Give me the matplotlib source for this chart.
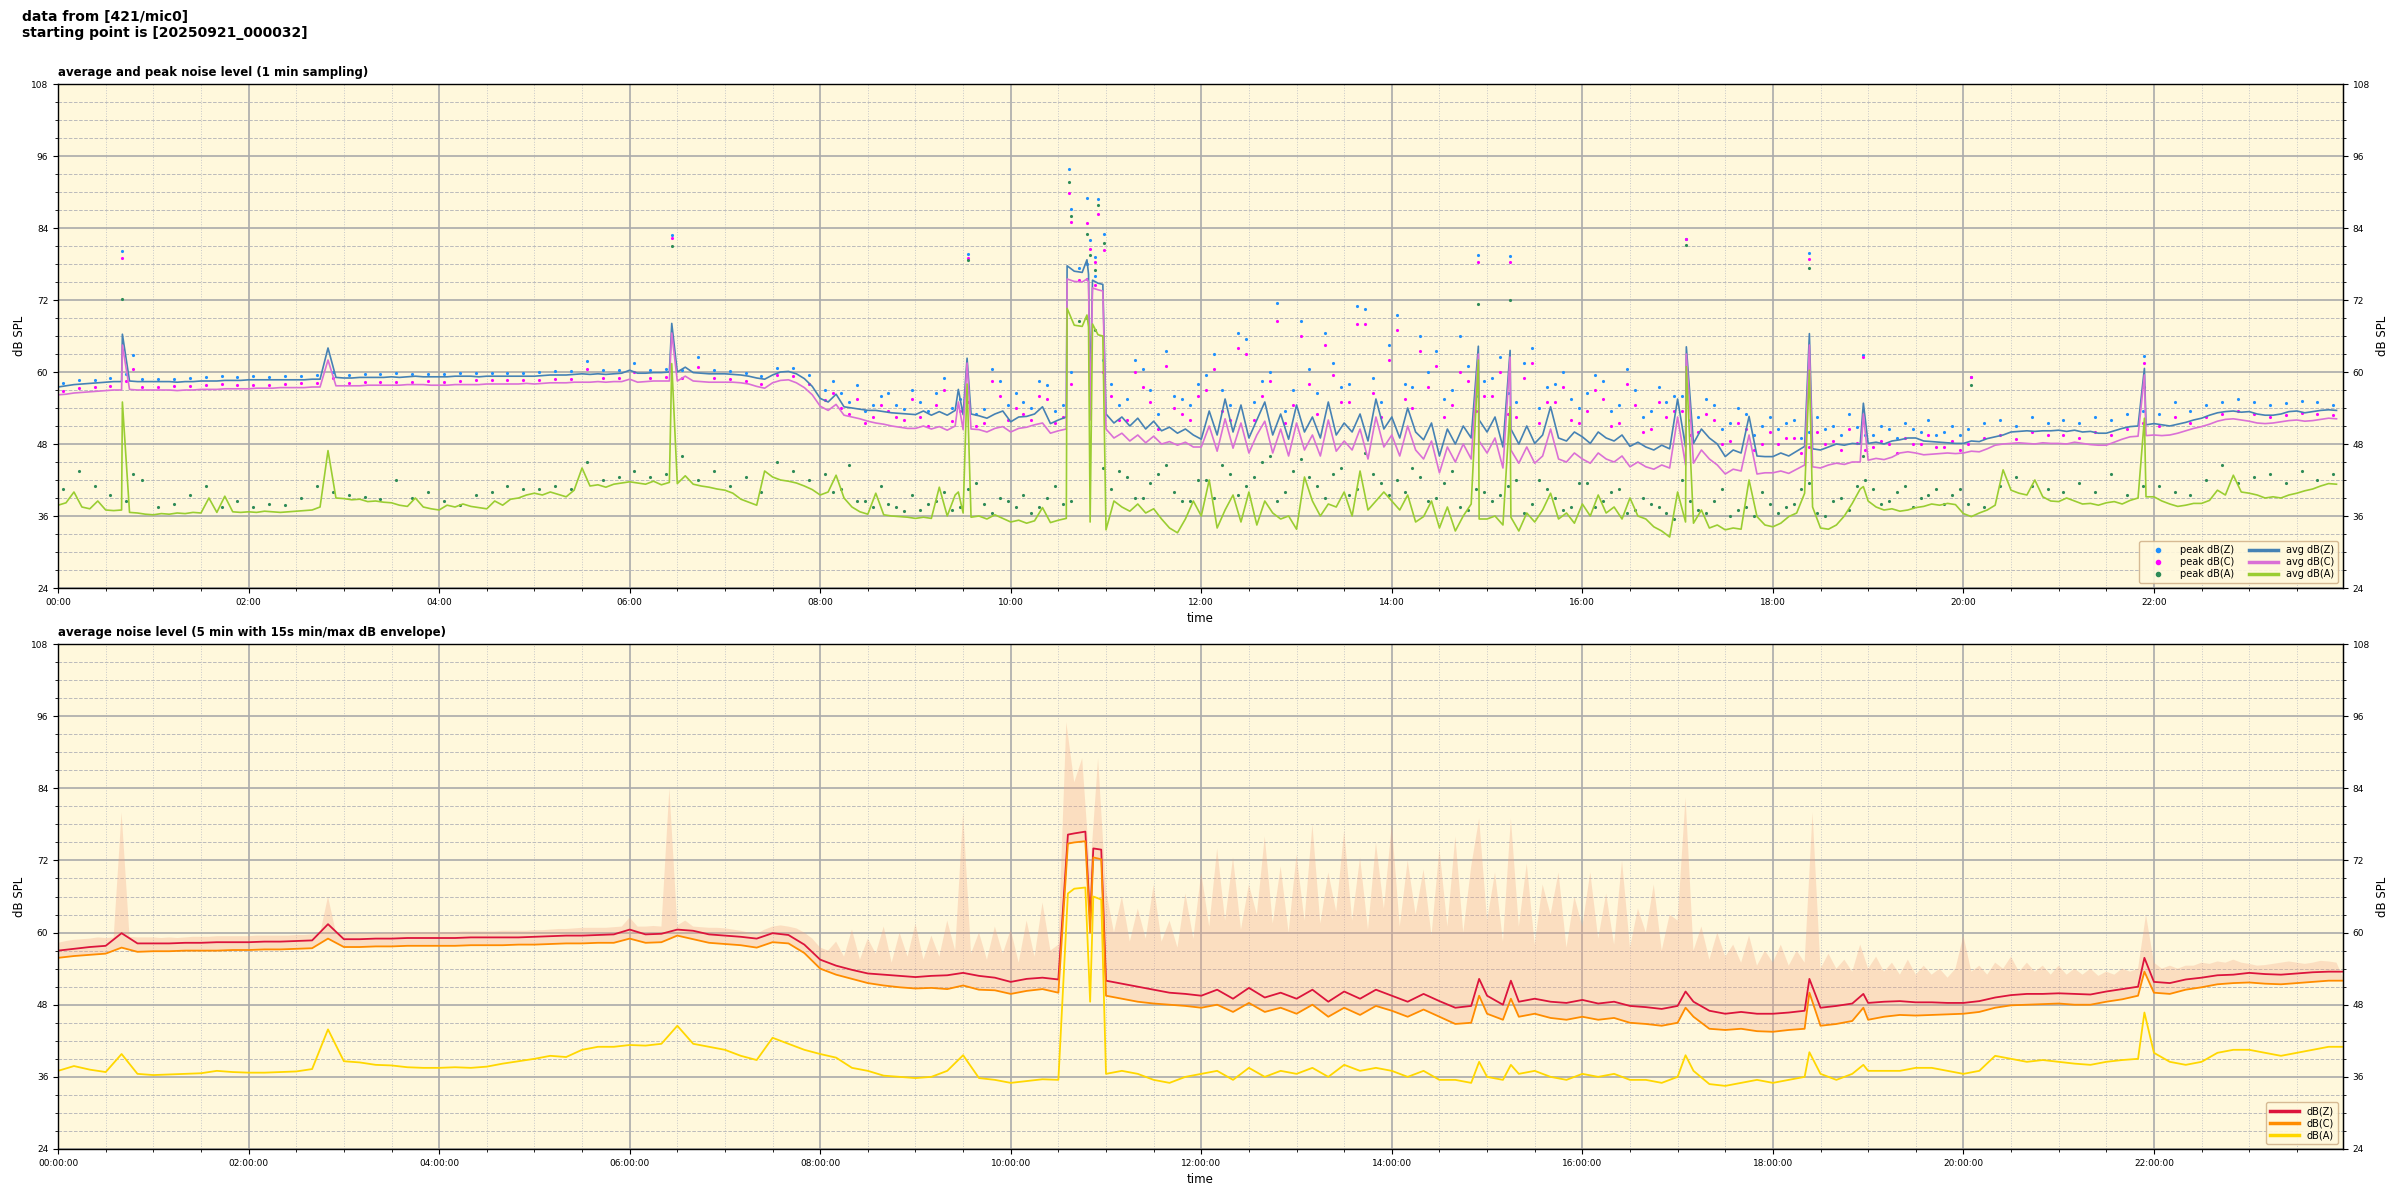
import numpy as np
import matplotlib.pyplot as plt
from matplotlib.ticker import MultipleLocator, FuncFormatter

# --- dados (minutos desde 00:00) ---

# médias a cada 5 min (painel de cima), uma linha por hora
avg_z = [
    57.5, 57.7, 57.9, 58.0, 58.1, 58.2, 58.3, 58.4, 58.4, 58.5, 58.4, 58.4,
    58.4, 58.4, 58.4, 58.3, 58.4, 58.4, 58.5, 58.5, 58.5, 58.6, 58.6, 58.6,
    58.7, 58.7, 58.7, 58.7, 58.7, 58.7, 58.7, 58.7, 58.8, 58.8, 64.0, 59.1,
    59.0, 59.0, 59.1, 59.1, 59.1, 59.1, 59.2, 59.1, 59.2, 59.3, 59.2, 59.2,
    59.2, 59.2, 59.3, 59.3, 59.3, 59.2, 59.3, 59.3, 59.3, 59.3, 59.3, 59.3,
    59.3, 59.4, 59.5, 59.5, 59.5, 59.6, 59.7, 59.6, 59.7, 59.6, 59.7, 59.8,
    60.3, 59.8, 59.8, 59.9, 59.9, 60.0, 60.0, 60.8, 59.9, 59.8, 59.7, 59.7,
    59.7, 59.6, 59.5, 59.3, 59.0, 58.8, 59.5, 60.0, 60.1, 59.7, 58.9, 57.6,
    55.6, 55.0, 56.3, 54.2, 54.0, 53.8, 53.6, 53.6, 53.4, 53.2, 53.1, 53.0,
    52.9, 53.5, 52.8, 53.4, 52.8, 53.6, 52.9, 53.0, 52.7, 52.3, 53.0, 53.5,
    51.7, 52.5, 52.6, 53.0, 54.2, 51.4, 52.0, 52.5, 76.8, 76.6, 56.0, 74.8,
    53.0, 51.5, 52.5, 51.0, 52.3, 50.5, 51.8, 50.2, 50.8, 49.8, 50.5, 49.5,
    48.8, 53.5, 49.5, 55.5, 50.0, 54.5, 49.0, 52.0, 55.0, 49.5, 53.0, 48.8,
    54.5, 50.0, 52.5, 49.0, 55.0, 49.5, 51.5, 50.0, 53.0, 48.5, 55.5, 50.5,
    52.5, 49.0, 54.0, 50.0, 48.7, 51.5, 46.0, 50.5, 48.0, 51.0, 49.0, 52.0,
    50.0, 52.5, 47.5, 50.5, 48.0, 51.0, 48.1, 49.5, 54.2, 49.0, 48.5, 50.0,
    49.2, 48.1, 50.0, 49.0, 48.5, 49.5, 47.6, 48.3, 47.5, 47.0, 47.8, 47.2,
    55.5, 47.5, 48.1, 50.5, 49.0, 48.0, 45.9, 47.0, 46.5, 52.6, 46.0, 45.9,
    45.9, 46.5, 46.0, 46.8, 47.6, 47.2, 47.0, 47.5, 48.0, 47.8, 48.1, 48.0,
    48.1, 48.3, 48.0, 48.5, 48.7, 49.0, 49.0, 48.5, 48.4, 48.3, 48.2, 48.1,
    48.1, 48.5, 48.4, 48.9, 49.2, 49.5, 50.0, 50.1, 50.2, 50.1, 50.2, 50.2,
    50.3, 50.1, 50.3, 50.0, 50.1, 49.8, 49.8, 50.2, 50.6, 50.9, 51.0, 51.2,
    51.4, 51.2, 51.0, 51.3, 51.6, 52.0, 52.3, 52.8, 53.2, 53.4, 53.5, 53.3,
    53.4, 53.0, 52.8, 52.8, 53.0, 53.4, 53.5, 53.2, 53.4, 53.6, 53.7, 53.6,
]
avg_c = [
    56.2, 56.3, 56.5, 56.6, 56.7, 56.8, 56.9, 57.0, 57.0, 57.1, 57.0, 57.0,
    57.0, 57.0, 57.0, 56.9, 57.0, 57.0, 57.1, 57.1, 57.1, 57.2, 57.2, 57.2,
    57.2, 57.3, 57.3, 57.3, 57.4, 57.4, 57.4, 57.4, 57.5, 57.5, 62.0, 57.7,
    57.7, 57.7, 57.7, 57.8, 57.8, 57.8, 57.8, 57.8, 57.9, 57.9, 57.9, 57.8,
    57.8, 57.8, 57.9, 57.9, 57.9, 57.9, 58.0, 58.0, 58.0, 58.0, 58.0, 58.1,
    58.0, 58.1, 58.2, 58.2, 58.2, 58.3, 58.3, 58.3, 58.4, 58.3, 58.4, 58.4,
    58.8, 58.3, 58.4, 58.5, 58.5, 58.5, 58.5, 59.3, 58.5, 58.4, 58.3, 58.3,
    58.3, 58.3, 58.2, 58.0, 57.6, 57.3, 58.2, 58.6, 58.7, 58.2, 57.4, 56.2,
    54.3, 53.6, 54.6, 52.8, 52.5, 52.2, 51.8, 51.5, 51.3, 51.0, 50.8, 50.6,
    50.6, 51.0, 50.5, 50.9, 50.3, 51.0, 50.4, 50.5, 50.4, 50.0, 50.6, 50.9,
    50.0, 50.6, 50.8, 51.2, 51.5, 49.8, 50.2, 50.5, 75.1, 75.0, 52.0, 73.7,
    50.5, 49.0, 49.8, 48.5, 49.5, 48.2, 49.3, 48.0, 48.4, 47.8, 48.3, 47.5,
    47.5, 51.0, 46.8, 52.2, 47.3, 51.5, 46.5, 49.5, 51.8, 46.5, 50.5, 46.0,
    51.5, 47.0, 49.5, 46.0, 52.0, 46.8, 48.5, 47.0, 50.5, 45.5, 52.5, 47.5,
    49.5, 46.0, 51.0, 47.0, 45.5, 48.5, 43.2, 47.5, 45.0, 48.0, 45.5, 48.5,
    46.5, 49.0, 44.0, 47.0, 44.8, 47.5, 44.8, 46.0, 50.5, 45.5, 45.0, 46.5,
    45.5, 44.8, 46.5, 45.5, 45.0, 46.0, 44.2, 45.0, 44.2, 43.8, 44.5, 44.0,
    52.5, 44.5, 44.8, 47.0, 45.5, 44.5, 43.0, 43.8, 43.5, 49.5, 43.0, 43.2,
    43.2, 43.5, 43.1, 43.8, 44.5, 44.2, 44.0, 44.5, 44.8, 44.6, 45.0, 45.0,
    45.3, 45.6, 45.4, 45.8, 46.5, 46.7, 46.5, 46.2, 46.3, 46.4, 46.5, 46.4,
    46.5, 46.8, 46.7, 47.2, 47.8, 48.0, 48.1, 48.2, 48.1, 48.0, 48.2, 48.1,
    48.1, 48.0, 48.3, 48.1, 47.9, 47.8, 47.8, 48.3, 48.8, 49.2, 49.3, 49.4,
    49.5, 49.4, 49.5, 49.8, 50.2, 50.6, 50.9, 51.3, 51.8, 52.1, 52.2, 52.0,
    51.8, 51.5, 51.4, 51.5, 51.7, 51.9, 52.0, 51.8, 51.9, 52.1, 52.3, 52.2,
]
avg_a = [
    37.8, 38.2, 40.0, 37.5, 37.2, 38.5, 37.0, 36.9, 37.0, 36.6, 36.5, 36.3,
    36.2, 36.4, 36.3, 36.5, 36.4, 36.6, 36.5, 39.0, 36.6, 39.3, 36.7, 36.6,
    36.7, 36.6, 36.8, 36.7, 36.6, 36.7, 36.8, 36.9, 37.0, 37.5, 46.9, 39.0,
    38.9, 38.7, 38.8, 38.4, 38.5, 38.3, 38.2, 37.8, 37.6, 39.0, 37.5, 37.2,
    37.0, 37.8, 37.5, 38.0, 37.6, 37.4, 37.2, 38.5, 37.8, 38.8, 39.0, 39.5,
    39.8, 39.5, 40.0, 39.6, 39.2, 40.3, 44.0, 41.0, 41.2, 40.8, 41.3, 41.5,
    41.7, 41.5, 41.3, 41.8, 41.2, 41.6, 41.4, 42.7, 41.3, 41.0, 40.8, 40.5,
    40.3, 39.8, 38.8, 38.3, 37.8, 43.5, 42.5, 42.0, 41.8, 41.5, 41.0, 40.4,
    39.5, 40.0, 42.8, 39.0, 37.5, 36.7, 36.3, 39.8, 36.2, 36.0, 35.9, 35.8,
    35.6, 35.8, 35.6, 40.8, 36.0, 39.5, 36.5, 35.8, 36.0, 35.5, 36.2, 35.6,
    35.0, 35.3, 34.8, 35.2, 37.4, 34.9, 35.3, 35.6, 67.8, 67.6, 35.0, 66.2,
    33.7, 38.5, 37.5, 36.8, 38.0, 36.5, 37.2, 35.5, 34.0, 33.2, 35.5, 38.5,
    36.0, 42.0, 34.0, 37.0, 39.5, 35.0, 40.0, 34.5, 38.5, 36.5, 35.5, 36.0,
    33.8, 42.5, 38.5, 36.0, 38.0, 37.5, 40.0, 36.0, 43.5, 37.0, 38.5, 40.0,
    38.5, 37.0, 39.5, 35.0, 35.9, 38.5, 34.0, 37.5, 33.5, 36.0, 38.0, 35.5,
    35.5, 36.0, 34.5, 35.8, 33.5, 36.5, 35.0, 37.0, 39.8, 35.5, 36.5, 34.8,
    38.0, 36.0, 39.5, 36.5, 37.5, 35.5, 39.0, 36.0, 35.5, 34.2, 33.5, 32.5,
    40.0, 35.0, 34.8, 37.0, 34.0, 34.5, 33.7, 34.0, 33.8, 42.0, 35.9, 34.5,
    34.2, 34.8, 35.9, 36.5, 39.8, 37.5, 34.0, 33.8, 34.5, 36.0, 38.1, 40.5,
    38.5, 37.5, 37.0, 37.2, 36.8, 37.0, 37.4, 37.6, 38.0, 37.8, 38.1, 37.9,
    36.4, 35.9, 36.5, 37.0, 37.8, 43.7, 40.3, 39.8, 39.5, 42.0, 39.2, 38.5,
    38.4, 39.0, 38.5, 38.0, 38.1, 37.8, 38.2, 38.4, 38.0, 38.6, 39.0, 39.2,
    39.2, 38.5, 38.0, 37.6, 37.8, 38.1, 38.1, 38.6, 40.3, 39.5, 42.8, 40.0,
    39.8, 39.5, 39.0, 39.2, 39.0, 39.5, 39.8, 40.2, 40.5, 41.0, 41.4, 41.3,
]

# picos curtos de 1 min (tempo, Z, C, A)
spike_t = [40.5, 386.5, 567, 572.5, 635.5, 648, 649, 651.5, 658, 894.5, 914.5, 1025.5, 1103, 1137, 1314]
spike_z = [66.3, 68.1, 57.1, 62.3, 77.7, 78.7, 76.3, 75.3, 74.6, 64.3, 63.6, 64.2, 66.4, 54.8, 60.6]
spike_c = [64.5, 66.5, 55.0, 61.5, 75.5, 75.5, 75.0, 74.0, 73.5, 63.0, 62.5, 63.0, 64.5, 53.0, 59.5]
spike_a = [55.0, 61.4, 40.0, 58.0, 70.6, 69.5, 67.5, 68.0, 66.0, 62.0, 54.2, 60.9, 60.3, 40.9, 52.3]

# valores de pico (a cada 10 min)
peak_z = [
    58.2, 58.6, 58.7, 59.0, 59.6, 58.9, 58.9, 58.9, 59.0, 59.2, 59.4, 59.2,
    59.3, 59.2, 59.3, 59.4, 59.5, 60.0, 59.5, 59.6, 59.7, 59.8, 59.7, 59.7,
    59.7, 59.8, 59.9, 59.8, 59.9, 59.8, 60.0, 60.2, 60.1, 61.8, 60.3, 60.4,
    61.5, 60.4, 60.5, 60.3, 62.5, 60.3, 60.2, 59.8, 59.4, 60.7, 60.6, 59.5,
    57.0, 56.5, 57.8, 54.5, 56.5, 53.9, 55.0, 56.5, 54.0, 57.5, 53.8, 58.5,
    56.5, 54.0, 57.8, 54.5, 77.3, 76.0, 58.0, 55.5, 60.5, 53.0, 56.0, 54.5,
    59.5, 57.0, 66.5, 55.0, 60.0, 53.5, 68.5, 56.5, 61.5, 58.0, 70.5, 55.0,
    69.5, 57.5, 60.0, 55.5, 66.0, 56.0, 59.0, 56.5, 61.5, 54.0, 58.0, 55.5,
    56.5, 58.5, 54.5, 57.0, 53.5, 55.0, 56.0, 52.5, 54.5, 51.5, 53.0, 51.0,
    50.5, 52.0, 50.0, 50.5, 49.5, 50.8, 49.5, 50.5, 51.5, 50.0, 49.5, 51.0,
    50.5, 51.5, 52.0, 51.0, 52.5, 51.5, 52.0, 51.5, 52.5, 52.0, 53.0, 53.5,
    53.0, 55.0, 53.5, 54.5, 55.0, 55.5, 55.0, 54.5, 54.8, 55.2, 55.0, 54.5,
]
peak_c = [
    56.8, 57.3, 57.5, 57.7, 58.5, 57.5, 57.5, 57.6, 57.6, 57.8, 58.0, 57.8,
    57.9, 57.9, 58.0, 58.1, 58.2, 59.0, 58.2, 58.3, 58.3, 58.4, 58.4, 58.5,
    58.4, 58.5, 58.6, 58.6, 58.6, 58.7, 58.7, 58.9, 58.9, 60.5, 59.0, 59.0,
    60.0, 59.0, 59.1, 59.0, 60.8, 59.0, 58.9, 58.5, 58.0, 59.5, 59.3, 58.0,
    55.3, 54.0, 55.5, 52.5, 53.5, 52.0, 52.5, 54.5, 51.8, 55.0, 51.5, 56.0,
    54.0, 52.0, 55.5, 52.5, 75.3, 74.5, 56.0, 52.0, 57.5, 50.5, 54.0, 52.0,
    57.0, 53.5, 64.0, 52.0, 58.5, 51.5, 66.0, 53.0, 59.5, 55.0, 68.0, 52.5,
    67.0, 54.0, 57.5, 52.5, 60.0, 53.5, 56.0, 53.0, 59.0, 51.5, 55.0, 52.0,
    53.5, 55.5, 51.5, 54.5, 50.5, 52.5, 53.5, 50.0, 52.0, 48.5, 50.5, 48.0,
    48.0, 49.0, 47.5, 48.0, 47.0, 48.2, 47.5, 48.0, 49.0, 48.0, 47.5, 48.5,
    48.0, 49.0, 49.5, 48.8, 50.0, 49.5, 49.5, 49.0, 50.0, 49.5, 50.5, 51.5,
    51.0, 52.5, 51.5, 52.5, 53.0, 53.5, 53.0, 52.5, 52.8, 53.2, 53.0, 52.8,
]
peak_a = [
    40.5, 43.5, 41.0, 39.5, 38.5, 42.0, 37.5, 38.0, 39.5, 41.0, 37.5, 38.5,
    37.5, 38.0, 37.8, 39.0, 41.0, 40.0, 39.5, 39.2, 38.8, 42.0, 39.0, 40.0,
    38.5, 37.8, 39.5, 40.0, 41.0, 40.5, 40.5, 41.0, 40.5, 45.0, 42.0, 42.5,
    43.5, 42.5, 43.0, 46.0, 42.0, 43.5, 41.0, 42.5, 40.0, 45.0, 43.5, 42.0,
    43.0, 40.5, 38.5, 37.5, 38.0, 36.8, 37.0, 38.5, 37.0, 40.5, 38.0, 39.0,
    37.5, 36.5, 39.0, 38.0, 68.5, 67.0, 40.5, 42.5, 39.0, 43.0, 40.0, 38.5,
    42.0, 44.5, 39.5, 42.5, 46.0, 40.0, 45.5, 41.0, 43.0, 39.5, 46.5, 41.5,
    42.0, 44.0, 38.5, 41.5, 37.5, 40.5, 38.5, 41.0, 36.5, 42.0, 39.0, 37.5,
    41.5, 38.5, 40.5, 37.0, 38.0, 36.5, 42.0, 37.0, 38.5, 36.0, 37.5, 40.0,
    36.5, 38.0, 41.5, 36.0, 39.0, 41.0, 40.5, 38.5, 41.0, 39.0, 40.5, 39.5,
    38.0, 37.5, 41.0, 42.5, 41.0, 40.5, 40.0, 41.5, 40.0, 43.0, 39.5, 41.0,
    41.0, 40.0, 39.5, 42.0, 44.5, 41.5, 42.5, 43.0, 41.5, 43.5, 42.0, 43.0,
]

# nuvem extra de picos entre 08:08 e 19:58 (a cada 10 min)
peak2_z = [
    58.5, 55.0, 53.5, 56.0, 54.5, 57.0, 53.5, 59.0, 55.5, 53.0, 60.5, 54.5,
    55.0, 58.5, 53.5, 60.0, 78.0, 62.0, 54.5, 62.0, 57.0, 63.5, 55.5, 58.0,
    63.0, 54.5, 65.5, 58.5, 71.5, 57.0, 60.5, 66.5, 57.5, 71.0, 59.0, 64.5,
    58.0, 66.0, 63.5, 57.0, 61.0, 58.5, 62.5, 55.0, 64.0, 57.5, 60.0, 54.0,
    59.5, 53.5, 60.5, 52.5, 57.5, 56.0, 52.0, 55.5, 50.5, 54.0, 49.5, 52.5,
    51.5, 49.0, 52.5, 51.0, 53.0, 49.5, 51.0, 49.0, 50.5, 52.0, 50.0, 49.5,
]
peak2_c = [
    56.5, 53.0, 51.5, 54.5, 52.5, 55.5, 51.0, 57.0, 53.5, 51.0, 58.5, 52.0,
    53.0, 56.0, 51.5, 58.0, 75.5, 60.0, 52.0, 60.0, 55.0, 61.0, 53.0, 56.0,
    60.5, 52.0, 63.0, 56.0, 68.5, 54.5, 58.0, 64.5, 55.0, 68.0, 56.5, 62.0,
    55.5, 63.5, 61.0, 54.5, 58.5, 56.0, 60.0, 52.5, 61.5, 55.0, 57.5, 51.5,
    57.0, 51.0, 58.0, 50.0, 55.0, 53.5, 49.5, 53.0, 48.0, 51.5, 47.0, 50.0,
    49.0, 46.5, 50.0, 48.5, 50.5, 47.0, 48.5, 46.5, 48.0, 49.5, 47.5, 47.0,
]
peak2_a = [
    40.0, 44.5, 38.5, 41.0, 37.5, 39.5, 38.0, 40.0, 37.5, 41.5, 36.5, 38.5,
    39.5, 37.5, 41.0, 38.5, 69.0, 44.0, 43.5, 39.0, 41.5, 44.5, 38.5, 42.0,
    39.0, 43.0, 41.0, 45.0, 38.5, 43.5, 42.5, 39.0, 44.0, 40.5, 43.0, 39.5,
    40.0, 42.5, 39.0, 43.5, 37.0, 40.0, 39.5, 42.0, 38.0, 40.5, 37.0, 41.5,
    37.5, 40.0, 36.5, 39.0, 37.5, 35.5, 38.5, 36.5, 40.5, 37.0, 36.0, 38.0,
    37.5, 40.5, 36.5, 38.5, 37.0, 42.0, 38.0, 40.0, 37.5, 39.5, 38.0, 40.5,
]

# picos isolados bem acima da nuvem
out_t = [40.5, 47, 386.5, 573, 636.5, 638, 648, 650, 653, 655, 658.5, 894.5, 914.5, 1025.5, 1103, 1137, 1204.5, 1314]
out_z = [80.2, 62.8, 82.8, 79.6, 93.9, 87.1, 89.0, 82.0, 79.1, 88.8, 83.0, 79.5, 79.3, 82.2, 79.9, 62.8, 59.1, 62.6]
out_c = [79.0, 60.5, 82.3, 79.0, 89.9, 85.0, 84.9, 80.5, 78.3, 86.3, 80.3, 78.3, 78.4, 82.2, 78.9, 62.5, 59.1, 61.5]
out_a = [72.2, 43.0, 81.0, 78.6, 91.7, 86.0, 83.0, 79.5, 77.0, 87.8, 81.5, 71.3, 72.0, 81.2, 77.4, 46.0, 57.8, 57.5]

# painel de baixo: médias de 5 min (lidas a cada 10 min)
bot_z = [
    57.0, 57.3, 57.6, 57.8, 59.9, 58.2, 58.2, 58.2, 58.3, 58.3, 58.4, 58.4,
    58.4, 58.5, 58.5, 58.6, 58.7, 61.4, 58.9, 58.9, 59.0, 59.0, 59.1, 59.1,
    59.1, 59.1, 59.2, 59.2, 59.2, 59.2, 59.3, 59.4, 59.5, 59.5, 59.6, 59.7,
    60.5, 59.7, 59.8, 60.5, 60.3, 59.7, 59.5, 59.3, 59.0, 59.9, 59.6, 58.0,
    55.5, 54.5, 53.8, 53.2, 53.0, 52.8, 52.6, 52.8, 52.9, 53.3, 52.8, 52.5,
    51.8, 52.3, 52.5, 52.2, 76.5, 62.0, 52.0, 51.5, 51.0, 50.5, 50.0, 49.8,
    49.5, 50.5, 49.0, 50.8, 49.2, 50.0, 49.0, 50.5, 48.5, 50.2, 49.0, 50.5,
    49.5, 48.5, 49.8, 48.6, 47.5, 47.8, 49.5, 48.0, 48.5, 49.0, 48.5, 48.3,
    48.8, 48.2, 48.5, 47.8, 47.6, 47.3, 47.8, 48.5, 47.0, 46.5, 46.8, 46.5,
    46.5, 46.7, 47.0, 47.5, 47.8, 48.2, 48.3, 48.5, 48.6, 48.4, 48.4, 48.3,
    48.3, 48.6, 49.2, 49.6, 49.8, 49.8, 49.9, 49.8, 49.7, 50.2, 50.6, 51.0,
    51.8, 51.6, 52.2, 52.5, 52.9, 53.0, 53.3, 53.1, 53.0, 53.2, 53.4, 53.5,
    53.5,
]
bot_c = [
    55.8, 56.1, 56.3, 56.5, 57.5, 56.8, 56.9, 56.9, 57.0, 57.0, 57.0, 57.1,
    57.1, 57.2, 57.2, 57.3, 57.4, 59.0, 57.6, 57.6, 57.7, 57.7, 57.8, 57.8,
    57.8, 57.8, 57.9, 57.9, 57.9, 58.0, 58.0, 58.1, 58.2, 58.2, 58.3, 58.3,
    59.0, 58.3, 58.4, 59.5, 58.9, 58.3, 58.1, 57.9, 57.5, 58.4, 58.2, 56.6,
    54.0, 53.0, 52.3, 51.6, 51.2, 50.9, 50.7, 50.8, 50.6, 51.2, 50.5, 50.4,
    49.8, 50.3, 50.6, 50.0, 75.0, 60.0, 49.5, 49.0, 48.5, 48.2, 48.0, 47.8,
    47.5, 48.0, 46.8, 48.3, 46.8, 47.5, 46.5, 48.0, 46.0, 47.5, 46.3, 47.8,
    47.0, 46.0, 47.2, 46.0, 44.8, 45.0, 46.5, 45.5, 46.0, 46.5, 45.8, 45.5,
    46.0, 45.5, 45.8, 45.0, 44.8, 44.5, 45.0, 46.0, 44.0, 43.8, 44.0, 43.6,
    43.5, 43.8, 44.0, 44.5, 44.8, 45.3, 45.5, 46.0, 46.3, 46.2, 46.3, 46.4,
    46.5, 46.8, 47.5, 47.9, 48.0, 48.1, 48.2, 48.0, 48.0, 48.5, 48.9, 49.5,
    50.0, 49.8, 50.5, 50.9, 51.4, 51.6, 51.7, 51.5, 51.4, 51.6, 51.8, 52.0,
    52.0,
]
bot_a = [
    37.0, 37.8, 37.2, 36.8, 39.8, 36.5, 36.3, 36.4, 36.5, 36.6, 37.0, 36.8,
    36.7, 36.7, 36.8, 36.9, 37.3, 43.9, 38.6, 38.4, 38.0, 37.9, 37.6, 37.5,
    37.5, 37.6, 37.5, 37.7, 38.2, 38.6, 39.0, 39.5, 39.3, 40.5, 41.0, 41.0,
    41.3, 41.2, 41.5, 44.5, 41.5, 41.0, 40.5, 39.5, 38.8, 42.5, 41.5, 40.5,
    39.8, 39.2, 37.5, 37.0, 36.2, 36.0, 35.8, 36.0, 37.0, 39.6, 35.8, 35.5,
    35.0, 35.3, 35.6, 35.5, 67.3, 48.5, 36.5, 37.0, 36.5, 35.5, 35.0, 36.0,
    36.5, 37.0, 35.5, 37.5, 36.0, 37.0, 36.5, 37.5, 36.0, 38.0, 37.0, 37.5,
    37.0, 36.0, 37.0, 35.5, 35.5, 35.0, 36.0, 35.5, 36.5, 37.0, 36.0, 35.5,
    36.5, 36.0, 36.5, 35.5, 35.5, 35.0, 36.0, 37.0, 34.8, 34.5, 35.0, 35.5,
    35.0, 35.5, 36.0, 36.5, 35.5, 36.5, 37.0, 37.0, 37.0, 37.5, 37.5, 37.0,
    36.5, 37.0, 39.5, 39.0, 38.5, 38.8, 38.5, 38.2, 38.0, 38.5, 38.8, 39.0,
    40.0, 38.5, 38.0, 38.5, 40.0, 40.5, 40.5, 40.0, 39.5, 40.0, 40.5, 41.0,
    41.0,
]
bot_ev_t = [636, 647, 652, 657, 895, 915, 1025, 1103, 1137, 1314]
bot_ev_z = [76.3, 76.8, 74.0, 73.8, 52.3, 52.0, 50.2, 52.3, 49.8, 55.8]
bot_ev_c = [74.8, 75.2, 72.5, 72.2, 49.5, 49.0, 47.5, 50.0, 47.5, 53.5]
bot_ev_a = [66.5, 67.5, 66.0, 65.5, 38.5, 38.0, 39.6, 40.1, 38.0, 46.7]

# máximo de 15 s (envelope), a cada 5 min
env_max = [
    58.3, 58.6, 58.8, 58.9, 59.0, 59.2, 59.1, 59.2, 80.0, 59.3, 59.2, 59.2,
    59.2, 59.1, 59.2, 59.1, 59.2, 59.3, 59.3, 59.3, 59.4, 59.4, 59.4, 59.4,
    59.4, 59.5, 59.5, 59.5, 59.5, 59.5, 59.6, 59.6, 59.7, 59.8, 66.0, 60.0,
    59.8, 59.8, 59.9, 59.9, 59.9, 60.0, 60.0, 60.0, 60.1, 60.1, 60.1, 60.1,
    60.1, 60.1, 60.1, 60.2, 60.2, 60.2, 60.2, 60.2, 60.3, 60.3, 60.3, 60.3,
    60.4, 60.4, 60.5, 60.6, 60.6, 60.7, 60.8, 60.8, 60.8, 60.8, 60.9, 61.0,
    62.5, 61.0, 61.0, 61.1, 61.0, 84.0, 61.2, 62.0, 61.0, 60.9, 60.8, 60.8,
    60.7, 60.5, 60.3, 60.0, 59.8, 60.5, 61.0, 61.2, 61.0, 60.7, 60.0, 59.0,
    57.5, 57.0, 58.5, 56.0, 60.5, 55.5, 59.0, 56.5, 61.0, 55.0, 60.0, 56.0,
    61.5, 55.5, 59.5, 56.0, 62.0, 57.0, 80.0, 56.5, 60.0, 55.5, 61.0, 56.5,
    60.5, 55.0, 62.0, 56.0, 65.0, 57.0, 58.0, 95.0, 85.0, 89.0, 70.0, 89.0,
    67.0, 60.0, 66.0, 58.5, 64.0, 59.0, 68.0, 58.5, 62.0, 57.5, 66.5, 59.0,
    70.0, 61.0, 74.0, 62.0, 72.5, 60.5, 68.0, 63.0, 76.0, 61.5, 71.0, 60.0,
    73.0, 62.0, 78.0, 61.5, 70.0, 63.5, 77.0, 62.0, 72.5, 60.5, 75.0, 64.0,
    78.0, 61.0, 72.0, 63.0, 70.5, 59.5, 74.0, 61.0, 76.0, 60.0, 71.0, 79.0,
    62.0, 70.0, 58.5, 79.0, 61.0, 71.5, 58.0, 68.0, 63.0, 70.0, 57.5, 66.0,
    61.0, 70.0, 59.0, 66.5, 58.0, 72.0, 57.5, 64.0, 60.0, 68.0, 57.0, 63.0,
    62.0, 82.5, 57.0, 61.0, 55.5, 60.0, 56.0, 58.0, 55.0, 59.5, 54.5, 57.0,
    55.0, 58.0, 54.5, 57.0, 55.0, 80.0, 54.0, 56.5, 54.0, 55.5, 53.5, 58.0,
    54.0, 56.0, 53.5, 55.0, 53.0, 55.5, 53.0, 54.5, 53.0, 54.0, 52.5, 54.0,
    59.5, 53.5, 54.5, 53.0, 55.0, 54.0, 56.0, 53.5, 55.0, 53.5, 54.5, 53.0,
    54.5, 53.0, 54.0, 53.0, 54.0, 52.8, 53.5, 53.0, 54.0, 53.5, 54.0, 63.0,
    55.0, 54.0, 54.5, 54.0, 54.5, 54.5, 55.0, 54.8, 55.2, 55.0, 55.5, 55.0,
    54.8, 54.5, 54.6, 54.8, 55.0, 55.2, 55.0, 54.8, 55.0, 55.3, 55.2, 55.0,
]

t5 = np.arange(len(avg_z)) * 5.0
t10 = np.arange(len(peak_z)) * 10.0 + 3
t10b = np.arange(len(peak2_z)) * 10.0 + 488
tb = np.arange(len(bot_z)) * 10.0


def merge(t_grid, v_grid, t_ev, v_ev):
    t = np.concatenate([t_grid, t_ev])
    v = np.concatenate([v_grid, v_ev])
    o = np.argsort(t, kind="stable")
    return t[o], v[o]


def hhmm(x, pos):
    return f"{int(x // 60):02d}:{int(x % 60):02d}"


def hhmmss(x, pos):
    return f"{int(x // 60):02d}:{int(x % 60):02d}:00"


BG = "#FFF8DC"


def estilo(ax, fmt):
    ax.set_facecolor(BG)
    ax.set_xlim(0, 1439)
    ax.set_ylim(24, 108)
    ax.set_yticks(np.arange(24, 109, 12))
    ax.yaxis.set_minor_locator(MultipleLocator(3))
    ax.xaxis.set_major_locator(MultipleLocator(120))
    ax.xaxis.set_minor_locator(MultipleLocator(30))
    ax.xaxis.set_major_formatter(FuncFormatter(fmt))
    ax.grid(which="major", color="#AAAAAA", lw=1.2, ls="-")
    ax.grid(which="minor", axis="y", color="#BBBBBB", lw=0.7, ls="--")
    ax.grid(which="minor", axis="x", color="#C8C8C8", lw=0.7, ls=":")
    ax.set_axisbelow(True)
    ax.tick_params(which="both", right=True, labelright=True, labelsize=6.5)
    ax.set_xlabel("time", fontsize=8.5)
    ax.set_ylabel("dB SPL", fontsize=8.5)
    sec = ax.secondary_yaxis("right")
    sec.set_yticks([])
    sec.set_ylabel("dB SPL", fontsize=8.5, labelpad=24)
    for s in ax.spines.values():
        s.set_linewidth(1.0)


fig = plt.figure(figsize=(24, 12), dpi=100)
fig.text(0.009, 0.992, "data from [421/mic0]\nstarting point is [20250921_000032]",
         va="top", ha="left", fontsize=10, fontweight="bold")

# --- painel de cima ---
ax1 = fig.add_axes([0.0242, 0.51, 0.952, 0.42])
estilo(ax1, hhmm)
ax1.set_title("average and peak noise level (1 min sampling)", loc="left",
              fontsize=8.5, fontweight="bold", pad=6)

pz_t, pz = merge(np.concatenate([t10, t10b]), peak_z + peak2_z, out_t, out_z)
pc_t, pc = merge(np.concatenate([t10, t10b]), peak_c + peak2_c, out_t, out_c)
pa_t, pa = merge(np.concatenate([t10, t10b]), peak_a + peak2_a, out_t, out_a)
ax1.plot(pz_t, pz, ".", color="#1E90FF", ms=2.5, label="peak dB(Z)")
ax1.plot(pc_t, pc, ".", color="#FF00FF", ms=2.5, label="peak dB(C)")
ax1.plot(pa_t, pa, ".", color="#2E8B57", ms=2.5, label="peak dB(A)")

tz, z = merge(t5, avg_z, spike_t, spike_z)
tc, c = merge(t5, avg_c, spike_t, spike_c)
ta, a = merge(t5, avg_a, spike_t, spike_a)
ax1.plot(tz, z, color="#4682B4", lw=1.2, label="avg dB(Z)")
ax1.plot(tc, c, color="#DA70D6", lw=1.2, label="avg dB(C)")
ax1.plot(ta, a, color="#9ACD32", lw=1.2, label="avg dB(A)")

leg = ax1.legend(loc="lower right", ncol=2, fontsize=7, markerscale=2.4,
                 facecolor=BG, edgecolor="#D2B48C", framealpha=0.9,
                 handlelength=3, columnspacing=1.5, labelspacing=0.2)
for ln in leg.get_lines()[3:]:
    ln.set_linewidth(2.5)

# --- painel de baixo ---
ax2 = fig.add_axes([0.0242, 0.0425, 0.952, 0.4208])
estilo(ax2, hhmmss)
ax2.set_title("average noise level (5 min with 15s min/max dB envelope)", loc="left",
              fontsize=8.5, fontweight="bold", pad=6)

bz_t, bz = merge(tb, bot_z, bot_ev_t, bot_ev_z)
bc_t, bc = merge(tb, bot_c, bot_ev_t, bot_ev_c)
ba_t, ba = merge(tb, bot_a, bot_ev_t, bot_ev_a)

ax2.fill(np.concatenate([t5, bc_t[::-1]]), np.concatenate([env_max, bc[::-1]]),
         color="#F4A582", alpha=0.3, lw=0)
ax2.plot(bz_t, bz, color="#DC143C", lw=1.3, label="dB(Z)")
ax2.plot(bc_t, bc, color="#FF8C00", lw=1.3, label="dB(C)")
ax2.plot(ba_t, ba, color="#FFD700", lw=1.3, label="dB(A)")
leg2 = ax2.legend(loc="lower right", fontsize=7, facecolor=BG, edgecolor="#D2B48C",
                  framealpha=0.9, handlelength=3, labelspacing=0.2)
for ln in leg2.get_lines():
    ln.set_linewidth(2.5)

fig.savefig("out.png", dpi=100, facecolor="white")
